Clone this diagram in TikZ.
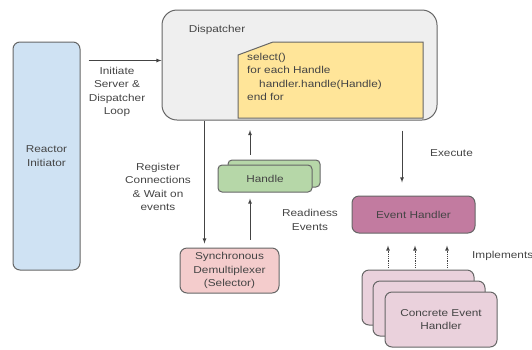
\documentclass[tikz,border=0pt]{standalone}
\usepackage{fontspec}
\setmainfont[FakeStretch=1.18]{Liberation Sans}
\usepackage{xcolor}
\usetikzlibrary{shapes,arrows}

\definecolor{reactorblue}{HTML}{CFE2F3}
\definecolor{dispgray}{HTML}{EFEFEF}
\definecolor{codeyellow}{HTML}{FFE599}
\definecolor{handlegreen}{HTML}{B6D7A8}
\definecolor{selpink}{HTML}{F4CCCC}
\definecolor{evhpurple}{HTML}{C27BA0}
\definecolor{concpink}{HTML}{EAD1DC}
\definecolor{bordergray}{HTML}{666666}
\definecolor{textgray}{HTML}{444444}

\begin{document}
\begin{tikzpicture}[x=1pt, y=-1pt, font=\fontsize{10}{13.5}\selectfont, text=textgray]
\tikzstyle{boxr}=[rectangle, rounded corners=7pt, draw=bordergray, line width=1pt, align=center, inner sep=2pt]
\tikzstyle{drawstyle}=[line width=0.8pt, draw=textgray, -latex]
\tikzstyle{lbl}=[align=center, inner sep=0pt]

\useasboundingbox (0,0) rectangle (532,349);

\node[boxr, fill=reactorblue, minimum width=67pt, minimum height=228pt] (reactor) at (46.5,156) {Reactor\\Initiator};

\node[boxr, rounded corners=15pt, fill=dispgray, minimum width=275pt, minimum height=110pt] (disp) at (299.5,65) {};
\node[lbl] (disptitle) at (217,30) {Dispatcher};
\filldraw[fill=codeyellow, draw=bordergray, line width=1pt] (238,55) -- (273,42) -- (423,42) -- (423,118) -- (238,118) -- cycle;
\coordinate (codebot) at (250,118);
\node[lbl, anchor=north west, align=left] (code) at (247,53) {select()\\for each Handle\\\hspace*{1.2em}handler.handle(Handle)\\end for};

\draw[drawstyle] ([xshift=8pt, yshift=-19pt]reactor.north east) -- ([yshift=-19pt]disp.west |- reactor.north east);
\node[lbl] (initlbl) at (117,92) {Initiate\\Server \&\\Dispatcher\\Loop};

\node[boxr, fill=selpink, minimum width=99pt, minimum height=45pt, inner sep=0pt] (sync) at (229.5,270.5) {Synchronous\\Demultiplexer\\(Selector)};
\node[boxr, rounded corners=4pt, fill=handlegreen, minimum width=92pt, minimum height=27pt] (handleback) at (274,173.5) {};
\node[boxr, rounded corners=4pt, fill=handlegreen, minimum width=94pt, minimum height=27pt] (handle) at (265,178.5) {Handle};

\draw[drawstyle, shorten >=4pt] ([xshift=43pt]disp.south west) -- ([xshift=43pt]disp.south west |- sync.north);
\node[lbl] (reglbl) at (158,187) {Register\\Connections\\\& Wait on\\events};
\draw[drawstyle, shorten <=8pt, shorten >=6pt] (sync.north -| codebot) -- (handle.south -| codebot);
\draw[drawstyle, shorten <=5pt, shorten >=12pt] (handleback.north -| codebot) -- (codebot);
\node[lbl] (readylbl) at (310,220) {Readiness\\Events};

\node[boxr, fill=evhpurple, minimum width=123pt, minimum height=37pt] (evh) at (413.5,214.5) {Event Handler};
\draw[drawstyle, shorten <=10pt, shorten >=13pt] (disp.south -| 402,0) -- (evh.north -| 402,0);
\node[lbl, anchor=west] (execlbl) at (430,153) {Execute};

\node[boxr, fill=concpink, minimum width=112pt, minimum height=55pt] (conc3) at (418,297.5) {};
\node[boxr, fill=concpink, minimum width=112pt, minimum height=55pt] (conc2) at (429,308.5) {};
\node[boxr, fill=concpink, minimum width=112pt, minimum height=55pt] (conc1) at (441,319.5) {Concrete Event\\Handler};

\foreach \dx in {-25.5, 1.5, 33.5}
  \draw[drawstyle, densely dotted, shorten <=2pt, shorten >=12pt] ([xshift=\dx pt]evh.south |- conc3.north) -- ([xshift=\dx pt]evh.south);
\node[lbl, anchor=west] (implbl) at (472,256) {Implements};
\end{tikzpicture}
\end{document}
